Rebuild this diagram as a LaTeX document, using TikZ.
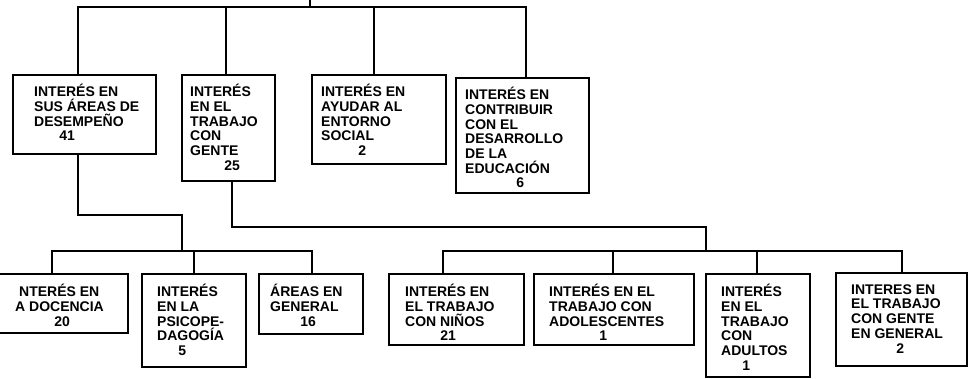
\documentclass[tikz,border=0pt]{standalone}
\usepackage{fontspec}
\setmainfont{Liberation Sans}
\usetikzlibrary{fit}
\begin{document}
\begin{tikzpicture}[x=1pt,y=-1pt,
  box/.style={draw=black, line width=1.1pt, inner sep=0pt, fill=none},
  txt/.style={inner sep=0pt, anchor=north west, align=left, font=\bfseries\fontsize{14}{14.7}\selectfont},
  conn/.style={line width=1.1pt, line cap=rect}]
\useasboundingbox (0,0) rectangle (968,379);
\clip (0,0) rectangle (968,379);
% top-level boxes
\node[box, fit={(13,75)(156,154)}] (b1) {};
\node[box, fit={(182,75)(275,181)}] (b2) {};
\node[box, fit={(312,75)(446,164)}] (b3) {};
\node[box, fit={(456,78)(589,193)}] (b4) {};
% second-level boxes
\node[box, fit={(-6,274)(128,333)}] (l1) {};
\node[box, fit={(142,274)(246,367)}] (l2) {};
\node[box, fit={(259,274)(363,334)}] (l3) {};
\node[box, fit={(389,274)(524,345)}] (r1) {};
\node[box, fit={(534,274)(694,345)}] (r2) {};
\node[box, fit={(706,274)(810,377)}] (r3) {};
\node[box, fit={(836,273)(967,366)}] (r4) {};
% texts
\def\fs{\rule{0pt}{11pt}}
\node[txt] (b1t) at (34,84) {\fs INTERÉS EN\\SUS ÁREAS DE\\DESEMPEÑO\\\hspace*{33pt}\makebox[0pt]{41}};
\node[txt] (b2t) at (190,84) {\fs INTERÉS\\EN EL\\TRABAJO\\CON\\GENTE\\\hspace*{42pt}\makebox[0pt]{25}};
\node[txt] (b3t) at (321,84) {\fs INTERÉS EN\\AYUDAR AL\\ENTORNO\\SOCIAL\\\hspace*{41pt}\makebox[0pt]{2}};
\node[txt] (b4t) at (465,87) {\fs INTERÉS EN\\CONTRIBUIR\\CON EL\\DESARROLLO\\DE LA\\EDUCACIÓN\\\hspace*{55pt}\makebox[0pt]{6}};
\node[txt] (l1t) at (19,284) {\fs NTERÉS EN\\\hspace*{-4pt}A DOCENCIA\\\hspace*{43pt}\makebox[0pt]{20}};
\node[txt] (l2t) at (157,284) {\fs INTERÉS\\EN LA\\PSICOPE-\\DAGOGÍA\\\hspace*{25pt}\makebox[0pt]{5}};
\node[txt] (l3t) at (270,284) {\fs ÁREAS EN\\GENERAL\\\hspace*{38pt}\makebox[0pt]{16}};
\node[txt] (r1t) at (405,284) {\fs INTERÉS EN\\EL TRABAJO\\CON NIÑOS\\\hspace*{43pt}\makebox[0pt]{21}};
\node[txt] (r2t) at (549,284) {\fs INTERÉS EN EL\\TRABAJO CON\\ADOLESCENTES\\\hspace*{54pt}\makebox[0pt]{1}};
\node[txt] (r3t) at (721,284) {\fs INTERÉS\\EN EL\\TRABAJO\\CON\\ADULTOS\\\hspace*{25pt}\makebox[0pt]{1}};
\node[txt] (r4t) at (851,283) {\fs INTERES EN\\EL TRABAJO\\CON GENTE\\EN GENERAL\\\hspace*{49pt}\makebox[0pt]{2}};
% junction coordinates
\coordinate (top) at (310,0);
\coordinate (bus) at (310,7);
\coordinate (x1) at (78,7);
\coordinate (x2) at (226,7);
\coordinate (x3) at (374,7);
\coordinate (x4) at (526,7);
\coordinate (ja) at (78,215);
\coordinate (jb) at (182,215);
\coordinate (busL) at (182,251);
\coordinate (ya) at (52,251);
\coordinate (yb) at (194,251);
\coordinate (yc) at (312,251);
\coordinate (jc) at (232,227);
\coordinate (jd) at (706,227);
\coordinate (busR) at (706,251);
\coordinate (za) at (443,251);
\coordinate (zb) at (613,251);
\coordinate (zc) at (757,251);
\coordinate (zd) at (902,251);
% top connectors
\draw[conn] (top) -- (bus);
\draw[conn] (b1.north -| x1) -- (x1) -- (x4) -- (b4.north -| x4);
\draw[conn] (x2) -- (b2.north -| x2);
\draw[conn] (x3) -- (b3.north -| x3);
% left branch
\draw[conn] (b1.south -| ja) -- (ja) -- (jb) -- (busL);
\draw[conn] (l1.north -| ya) -- (ya) -- (yc) -- (l3.north -| yc);
\draw[conn] (yb) -- (l2.north -| yb);
% right branch
\draw[conn] (b2.south -| jc) -- (jc) -- (jd) -- (busR);
\draw[conn] (r1.north -| za) -- (za) -- (zd) -- (r4.north -| zd);
\draw[conn] (zb) -- (r2.north -| zb);
\draw[conn] (zc) -- (r3.north -| zc);
\end{tikzpicture}
\end{document}
